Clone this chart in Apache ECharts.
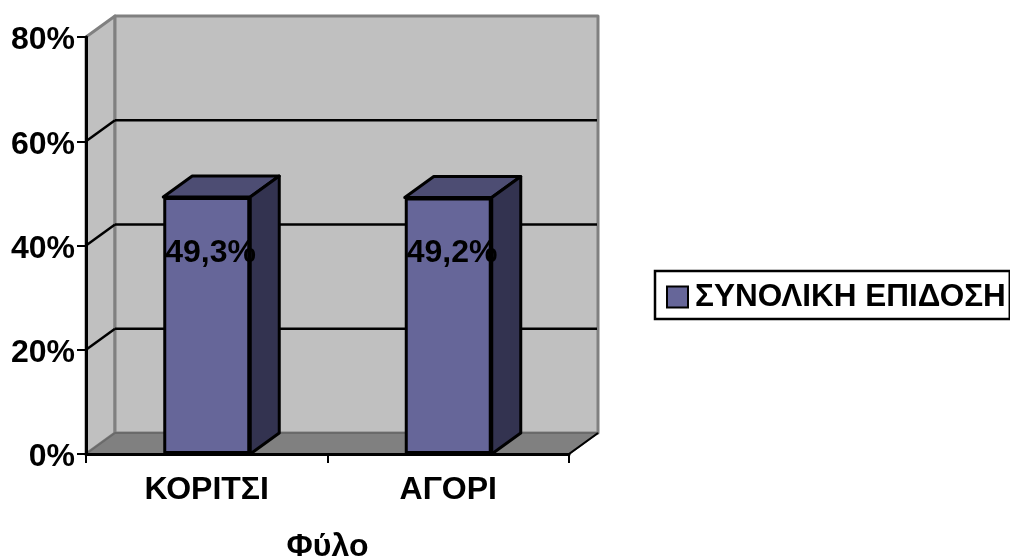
<!DOCTYPE html>
<html>
<head>
<meta charset="utf-8">
<style>html,body{margin:0;padding:0;background:#fff}#chart{width:1010px;height:558px}</style>
<script src="https://cdn.jsdelivr.net/npm/echarts@6/dist/echarts.min.js"></script>
</head>
<body>
<div id="chart"></div>
<script>
// Gender breakdown of overall performance, drawn as a pseudo-3D column chart.
const categories = ['ΚΟΡΙΤΣΙ', 'ΑΓΟΡΙ'];
const performance = [49.3, 49.2];
const yTicks = [0, 20, 40, 60, 80];
const seriesName = 'ΣΥΝΟΛΙΚΗ ΕΠΙΔΟΣΗ';
const axisTitle = 'Φύλο';

// Oblique projection depth of the box and the columns.
const DX = 29, DY = -21, BAR_W = 87;
const FONT = '"Liberation Sans", Arial, sans-serif';
const FS = 32;

const chart = echarts.init(document.getElementById('chart'), null, { renderer: 'canvas' });

const poly = (points, fill, stroke, lineWidth) => ({
  type: 'polygon',
  shape: { points },
  style: { fill, stroke, lineWidth, lineJoin: 'round' }
});
const line = (a, b, stroke, lineWidth) => ({
  type: 'line',
  shape: { x1: a[0], y1: a[1], x2: b[0], y2: b[1] },
  style: { stroke, lineWidth }
});

// Left wall, back wall and floor, with a rule per y tick.
function renderBox(params, api) {
  const yMin = yTicks[0], yMax = yTicks[yTicks.length - 1];
  const x0 = params.coordSys.x, x1 = x0 + params.coordSys.width;
  const bottom = api.coord([0, yMin])[1], top = api.coord([0, yMax])[1];
  const children = [];
  if (params.dataIndex === 0) {
    children.push(
      poly([[x0, top], [x0 + DX, top + DY], [x0 + DX, bottom + DY], [x0, bottom]], '#c0c0c0', '#808080', 3),
      poly([[x0 + DX, top + DY], [x1 + DX, top + DY], [x1 + DX, bottom + DY], [x0 + DX, bottom + DY]], '#c0c0c0', '#808080', 3),
      poly([[x0, bottom], [x0 + DX, bottom + DY], [x1 + DX, bottom + DY], [x1, bottom]], '#808080', '#6a6a6a', 2),
      line([x1, bottom], [x1 + DX, bottom + DY], '#000', 2)
    );
  }
  const v = api.value(0);
  if (v !== yMin && v !== yMax) {
    const y = api.coord([0, v])[1];
    children.push(
      line([x0, y], [x0 + DX, y + DY], '#000', 2.5),
      line([x0 + DX, y + DY], [x1 + DX - 1, y + DY], '#000', 2.5)
    );
  }
  return { type: 'group', children };
}

// Top and right faces of a column; the front face comes from the bar series.
function renderFaces(params, api) {
  const p = api.coord([api.value(0), api.value(1)]);
  const base = api.coord([api.value(0), 0])[1];
  const l = p[0] - BAR_W / 2, r = p[0] + BAR_W / 2, t = p[1];
  return {
    type: 'group',
    children: [
      poly([[l, t], [l + DX, t + DY], [r + DX, t + DY], [r, t]], '#4d4d73', '#000', 3),
      poly([[r, t], [r + DX, t + DY], [r + DX, base + DY], [r, base]], '#333350', '#000', 3)
    ]
  };
}

chart.setOption({
  animation: false,
  textStyle: { fontFamily: FONT },
  grid: { left: 86, top: 37, width: 483, height: 417, containLabel: false, outerBoundsMode: 'none' },
  legend: {
    data: [seriesName],
    left: 655,
    top: 271,
    padding: [10, 4, 6, 11],
    icon: 'rect',
    itemWidth: 21,
    itemHeight: 21,
    itemGap: 0,
    backgroundColor: '#fff',
    borderColor: '#000',
    borderWidth: 2.5,
    textStyle: { fontFamily: FONT, fontWeight: 'bold', fontSize: 31.5, color: '#000', padding: [0, 0, 0, 2] }
  },
  xAxis: {
    type: 'category',
    data: categories,
    name: axisTitle,
    nameLocation: 'middle',
    nameGap: 77,
    nameTextStyle: { fontFamily: FONT, fontWeight: 'bold', fontSize: FS, color: '#000' },
    axisLine: { lineStyle: { color: '#000', width: 3 } },
    axisTick: { show: true, length: 9, alignWithLabel: false, lineStyle: { color: '#000', width: 2 } },
    axisLabel: { margin: 20, fontFamily: FONT, fontWeight: 'bold', fontSize: FS, color: '#000' },
    z: 5
  },
  yAxis: {
    type: 'value',
    min: 0,
    max: 80,
    interval: 20,
    axisLine: { show: true, lineStyle: { color: '#000', width: 3 } },
    axisTick: { show: true, length: 9, lineStyle: { color: '#000', width: 2 } },
    axisLabel: {
      margin: 11,
      formatter: '{pct|{value}%}',
      rich: {
        pct: { padding: [7, 0, 0, 0], fontFamily: FONT, fontWeight: 'bold', fontSize: FS, color: '#000' }
      }
    },
    splitLine: { show: false },
    z: 5
  },
  series: [
    {
      type: 'custom',
      name: 'box',
      silent: true,
      z: 1,
      clip: false,
      encode: { y: 0 },
      data: yTicks.map(v => [v]),
      renderItem: renderBox
    },
    {
      type: 'custom',
      name: 'faces',
      silent: true,
      z: 2,
      clip: false,
      encode: { x: 0, y: 1 },
      data: performance.map((v, i) => [i, v]),
      renderItem: renderFaces
    },
    {
      type: 'bar',
      name: seriesName,
      z: 3,
      barWidth: BAR_W,
      data: performance,
      itemStyle: { color: '#666699', borderColor: '#000', borderWidth: 3 },
      label: {
        show: true,
        position: [2, 40],
        fontFamily: FONT,
        fontWeight: 'bold',
        fontSize: FS,
        color: '#000',
        formatter: p => String(p.value).replace('.', ',') + '%'
      }
    }
  ]
});
</script>
</body>
</html>
